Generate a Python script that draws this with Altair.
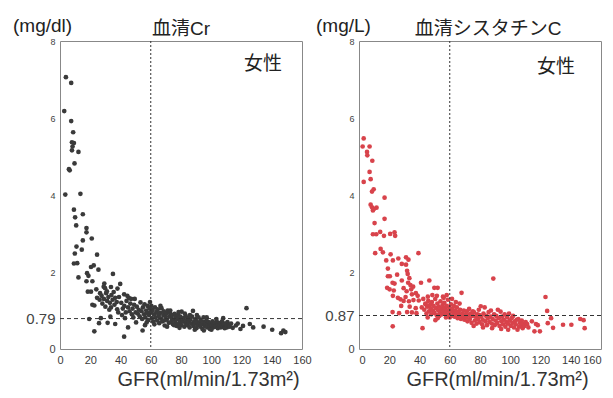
import altair as alt
import pandas as pd

FONT = "Liberation Sans, Arial, Noto Sans CJK JP, sans-serif"

gfr_ticks = [0, 20, 40, 60, 80, 100, 120, 140, 160]
cr_ticks = [0, 0.79, 2, 4, 6, 8]
cys_ticks = [0, 0.87, 2, 4, 6, 8]
cr_ref = 0.79
cys_ref = 0.87
gfr_ref = 60

# ---- serum creatinine (women): (GFR, Cr) ----
cr_high = [(3.9, 7.06), (7.4, 6.91), (2.8, 6.18), (7.4, 5.92), (8.7, 5.63), (7.9, 5.37), (9.2, 5.35),
           (8.3, 5.26), (7.9, 5.16), (12.2, 5.12), (9.6, 4.82), (5.9, 4.67), (6.4, 4.64), (3.5, 4.01),
           (13.5, 4.03), (9.2, 3.62), (15.1, 3.50), (10.0, 3.42), (10.7, 3.21), (17.5, 3.14), (17.5, 3.03),
           (15.1, 2.82), (21.0, 2.87), (10.9, 2.66), (14.4, 2.58), (9.8, 2.48), (24.5, 2.45), (9.2, 2.22),
           (11.4, 2.23), (20.5, 2.13), (22.3, 2.17), (25.4, 2.06), (17.9, 1.97), (12.2, 1.86), (18.8, 1.90),
           (35.0, 1.95), (17.5, 1.76), (21.4, 1.76), (29.3, 1.70), (28.9, 1.62), (33.7, 1.61), (38.0, 1.57),
           (39.8, 1.69), (18.4, 1.49), (20.5, 1.49), (42.4, 1.42), (45.5, 1.33), (49.4, 1.30), (24.5, 1.33),
           (26.2, 1.28), (21.4, 1.15), (22.7, 1.13)]
cr_mid = [(27.5, 1.38), (29.0, 1.30), (30.5, 1.45), (31.2, 1.25), (32.0, 1.35), (33.0, 1.20), (34.0, 1.40),
          (34.8, 1.28), (36.0, 1.15), (36.5, 1.33), (37.5, 1.22), (28.0, 1.18), (30.0, 1.10), (33.7, 1.08),
          (37.8, 1.03), (31.0, 1.50), (35.5, 1.48), (40.5, 1.20), (41.5, 1.05), (42.5, 1.12), (43.5, 0.95),
          (44.0, 1.25), (45.0, 1.08), (46.0, 0.98), (46.5, 1.18), (47.5, 0.90), (48.0, 1.05), (49.0, 1.15),
          (50.0, 0.95), (41.0, 0.88), (43.0, 0.80), (48.5, 0.82), (44.5, 1.38), (47.0, 1.30), (39.0, 1.35),
          (38.5, 0.95), (26.5, 1.45), (24.0, 1.55), (29.8, 1.58), (32.6, 1.02)]
cr_low = [(19.3, 0.78), (25.8, 0.67), (31.5, 0.68), (33.3, 0.84), (36.5, 0.65), (22.7, 0.46), (42.4, 0.32),
          (45.0, 0.56), (54.6, 0.48), (57.3, 0.69), (50.3, 0.69), (27.0, 0.80)]
cr_band = [(50.8, 1.10), (51.4, 0.92), (52.1, 1.02), (52.7, 0.85), (53.2, 1.21), (53.9, 0.98), (54.3, 0.78),
           (54.8, 1.08), (55.6, 0.90), (55.9, 1.16), (56.4, 0.82), (57.0, 1.00), (57.6, 0.94), (57.9, 1.12),
           (58.3, 0.75), (58.8, 0.88), (59.2, 1.05), (59.5, 1.22), (60.1, 0.95), (60.7, 0.80), (61.2, 1.01),
           (61.6, 0.71), (62.1, 0.90), (62.8, 1.08), (63.1, 0.82), (63.7, 0.96), (64.2, 0.74), (64.6, 1.03),
           (65.3, 0.86), (65.6, 0.67), (66.2, 0.94), (66.8, 0.79), (67.1, 1.06), (67.7, 0.72), (68.3, 0.88),
           (68.6, 0.98), (69.2, 0.61), (69.8, 0.83), (70.3, 0.92), (70.6, 0.76), (71.2, 1.00), (71.9, 0.68),
           (72.3, 0.85), (72.7, 0.94), (73.4, 0.70), (73.8, 0.80), (74.1, 0.88), (74.7, 0.64), (75.2, 0.76),
           (75.8, 0.91), (76.3, 0.70), (76.6, 0.83), (77.2, 0.60), (77.8, 0.78), (78.1, 0.89), (78.7, 0.66),
           (79.3, 0.74), (79.6, 0.84), (80.2, 0.62), (80.4, 0.97), (81.1, 0.72), (81.7, 0.80), (82.2, 0.58),
           (82.8, 0.68), (83.1, 0.86), (83.6, 0.74), (84.3, 0.62), (84.8, 0.80), (85.2, 0.70), (85.7, 0.56),
           (86.1, 0.76), (86.7, 0.66), (87.3, 0.84), (87.9, 0.99), (88.2, 0.60), (88.7, 0.72), (89.3, 0.66),
           (89.8, 0.78), (90.2, 0.54), (90.7, 0.70), (91.3, 0.62), (91.6, 0.82), (92.2, 0.68), (92.8, 0.58),
           (93.1, 0.74), (93.7, 0.64), (94.2, 0.52), (94.9, 0.82), (95.3, 0.70), (95.8, 0.60), (96.2, 0.66),
           (96.9, 0.74), (97.3, 0.56), (97.7, 0.64), (98.2, 0.70), (98.8, 0.60), (99.1, 0.52), (99.7, 0.66),
           (100.3, 0.62), (100.8, 0.72), (101.2, 0.56), (101.9, 0.64), (102.3, 0.68), (102.7, 0.58),
           (103.2, 0.62), (103.8, 0.70), (104.3, 0.54), (104.6, 0.64), (105.2, 0.60), (105.9, 0.68),
           (106.3, 0.56), (106.8, 0.62), (107.2, 0.72), (107.7, 0.58), (108.3, 0.64), (108.9, 0.54),
           (109.2, 0.66), (109.8, 0.60), (110.3, 0.56), (110.7, 0.70), (111.4, 0.62), (112.2, 0.58),
           (113.1, 0.66), (114.2, 0.55), (56.2, 0.62), (60.4, 1.12), (62.4, 0.64), (64.9, 0.92), (66.4, 1.12),
           (68.9, 0.74), (70.8, 0.58), (72.9, 1.00), (75.5, 0.62), (78.4, 0.96), (82.5, 0.92), (85.9, 0.88),
           (90.5, 0.88), (97.0, 0.82), (103.4, 0.78), (107.9, 0.80), (100.1, 0.50), (95.1, 0.48), (89.1, 0.50),
           (79.0, 0.55)]
cr_tail = [(116.3, 0.61), (119.3, 0.52), (123.3, 1.06), (125.5, 0.65), (127.7, 0.56), (134.6, 0.58),
           (140.3, 0.50), (146.2, 0.41), (147.7, 0.48), (149.0, 0.44), (117.5, 0.66), (121.0, 0.60)]

# ---- serum cystatin C (women): (GFR, CysC) ----
cys_high = [(3.1, 5.47), (2.4, 5.26), (7.0, 5.26), (5.3, 5.12), (5.5, 5.03), (8.8, 4.89), (7.0, 4.60),
            (7.7, 4.41), (3.1, 4.34), (9.7, 4.15), (8.6, 4.09), (16.9, 3.93), (7.7, 3.75), (8.6, 3.68),
            (11.6, 3.67), (9.2, 3.60), (9.9, 3.64), (16.9, 3.38), (10.3, 3.27), (9.2, 2.98), (11.4, 2.98),
            (14.0, 3.04), (16.5, 2.94), (20.6, 2.99), (23.5, 3.03), (23.9, 2.94)]
cys_upper = [(10.7, 2.49), (14.3, 2.60), (15.8, 2.51), (20.9, 2.46), (18.0, 2.30), (22.4, 2.30), (31.1, 2.38),
             (32.7, 2.32), (39.3, 2.49), (19.1, 2.09), (25.2, 1.93), (28.3, 2.21), (31.8, 2.03), (32.2, 1.95),
             (19.1, 1.89), (20.4, 1.89), (28.3, 1.78), (22.2, 1.72), (23.5, 1.70), (32.5, 1.72), (34.0, 1.66),
             (46.5, 1.78), (41.0, 1.72), (18.6, 1.59), (20.2, 1.55), (23.0, 1.52), (29.5, 1.58), (31.5, 1.50),
             (34.5, 1.55), (49.8, 1.59), (52.0, 1.59), (31.1, 2.19), (33.3, 1.84), (35.8, 1.62), (37.6, 1.45),
             (26.0, 2.35)]
cys_mid = [(25.7, 1.33), (22.4, 1.38), (27.4, 1.29), (45.5, 1.36), (48.5, 1.40), (51.5, 1.38), (56.0, 1.33),
           (29.5, 1.25), (33.0, 1.24), (36.0, 1.27), (39.5, 1.26), (27.9, 1.12), (33.5, 1.10), (37.5, 1.06),
           (41.5, 1.08), (38.8, 1.38), (42.5, 1.30), (35.0, 1.42), (44.0, 1.16), (30.8, 1.35)]
cys_low = [(22.2, 0.96), (31.8, 0.96), (35.0, 0.95), (38.0, 0.93), (45.4, 0.82), (53.1, 0.86), (22.3, 0.59),
           (42.0, 0.54), (57.5, 0.82), (60.0, 0.82), (50.5, 0.75), (26.5, 0.93)]
cys_dense = [(43.2, 1.02), (43.9, 1.18), (44.6, 0.92), (45.1, 1.10), (45.8, 1.25), (46.3, 0.98), (46.9, 1.14),
             (47.4, 1.05), (47.8, 0.90), (48.2, 1.22), (48.9, 1.00), (49.3, 1.12), (49.8, 0.94), (50.4, 1.30),
             (50.9, 1.06), (51.3, 0.88), (51.8, 1.18), (52.4, 1.00), (52.8, 1.10), (53.5, 0.94), (53.9, 1.24),
             (54.4, 1.04), (54.8, 0.90), (55.3, 1.14), (55.9, 0.98), (56.4, 1.20), (56.8, 1.06), (57.3, 0.92),
             (57.9, 1.12), (58.4, 1.00), (58.8, 1.28), (59.3, 0.90), (59.7, 1.08), (60.3, 0.98), (60.8, 1.16),
             (61.2, 0.86), (61.8, 1.04), (62.3, 0.94), (62.7, 1.12), (63.2, 0.84), (63.8, 1.00), (64.3, 0.92),
             (64.7, 1.08), (65.2, 0.80), (65.8, 0.96), (66.3, 0.88), (66.9, 1.02), (67.4, 0.78), (67.8, 1.46),
             (68.2, 0.92), (68.8, 0.84), (69.3, 1.00), (69.7, 0.76), (70.2, 0.90), (55.5, 1.36), (58.0, 1.40),
             (61.5, 1.30), (64.0, 1.22), (66.5, 1.18), (52.0, 0.80)]
cys_band = [(70.8, 0.82), (71.3, 0.98), (71.7, 0.72), (72.3, 0.88), (72.8, 1.04), (73.3, 0.78), (73.7, 0.92),
            (74.4, 0.68), (74.9, 0.86), (75.3, 0.98), (76.1, 0.95), (76.6, 0.74), (77.2, 0.84), (77.8, 0.66),
            (78.3, 0.90), (78.7, 0.78), (79.2, 1.02), (79.7, 0.70), (80.5, 1.11), (80.9, 0.84), (81.4, 0.64),
            (81.8, 0.76), (82.3, 0.92), (83.1, 1.08), (83.6, 0.72), (84.1, 0.86), (84.6, 0.62), (85.2, 0.80),
            (85.7, 0.96), (86.3, 0.70), (86.8, 0.84), (87.2, 1.00), (87.8, 0.66), (88.3, 0.78), (88.8, 1.83),
            (89.3, 0.90), (89.7, 0.62), (90.2, 0.74), (90.8, 0.86), (91.3, 0.68), (91.8, 1.02), (92.4, 0.80),
            (92.9, 0.60), (93.6, 0.97), (94.1, 0.72), (94.6, 0.84), (95.2, 0.64), (95.7, 0.76), (96.3, 0.90),
            (96.8, 0.58), (97.4, 0.70), (97.9, 0.82), (98.4, 0.66), (99.2, 0.92), (99.7, 0.74), (100.3, 0.60),
            (100.9, 0.80), (101.4, 0.68), (101.9, 0.86), (102.5, 0.56), (103.1, 0.72), (103.6, 0.64),
            (104.2, 0.76), (105.3, 0.78), (105.8, 0.58), (106.4, 0.68), (107.0, 0.62), (107.6, 0.74),
            (108.2, 0.54), (108.9, 0.66), (109.5, 0.60), (110.2, 0.70), (111.2, 0.65), (112.0, 0.56),
            (75.8, 0.60), (82.0, 0.56), (88.0, 0.54), (94.0, 0.52), (98.6, 0.50), (104.8, 0.50), (79.5, 0.88)]
cys_tail = [(116.0, 0.46), (119.6, 0.46), (123.3, 1.35), (124.4, 0.99), (127.0, 0.80), (124.8, 0.67),
            (128.3, 0.55), (117.0, 0.65), (118.2, 0.62), (134.9, 0.63), (140.4, 0.63), (146.3, 0.78),
            (148.5, 0.75), (149.2, 0.54), (114.3, 0.72)]

cr_points = cr_high + cr_mid + cr_low + cr_band + cr_tail
cys_points = cys_high + cys_upper + cys_mid + cys_low + cys_dense + cys_band + cys_tail

W, H = 242, 308


def label_text(txt, x, y, size, align="center"):
    return alt.Chart(pd.DataFrame({"t": [txt]})).mark_text(
        font=FONT, fontSize=size, color="#222", align=align, baseline="middle"
    ).encode(text="t:N", x=alt.value(x), y=alt.value(y))


def panel(points, color, ref, yticks, unit, title, unit_x, title_x, sex_x, sex_y, xt_x, flush):
    df = pd.DataFrame(points, columns=["gfr", "val"])
    xsc = alt.Scale(domain=[0, 160], nice=False, zero=True)
    ysc = alt.Scale(domain=[0, 8], nice=False)
    x_axis = alt.Axis(
        values=gfr_ticks, title="GFR(ml/min/1.73m²)", titleFont=FONT, titleFontSize=20,
        titleFontWeight="normal", titleColor="#333", titleX=xt_x, titleY=30,
        titleBaseline="middle", titleAlign="center", labelFont=FONT, labelFontSize=11,
        labelColor="#3a3a3a", labelPadding=5, ticks=False, domain=False, grid=False,
        labelFlush=flush)
    y_axis = alt.Axis(
        values=yticks, title=None, labelExpr="'' + datum.value", labelFont=FONT,
        labelFontSize={"condition": [{"test": "datum.value > 0.5 && datum.value < 1", "value": 15},
                                     {"test": "datum.value == 0", "value": 11}],
                       "value": 9},
        labelColor="#444", labelPadding=5, ticks=False, domain=False, grid=False,
        labelOverlap=False, labelFlush=False)
    pts = alt.Chart(df).mark_circle(size=22, color=color, opacity=1).encode(
        x=alt.X("gfr:Q", scale=xsc, axis=x_axis),
        y=alt.Y("val:Q", scale=ysc, axis=y_axis),
    )
    vline = alt.Chart(pd.DataFrame({"gfr": [gfr_ref]})).mark_rule(
        color="#333", strokeDash=[2, 2], strokeWidth=1
    ).encode(x=alt.X("gfr:Q", scale=xsc, axis=x_axis))
    hline = alt.Chart(pd.DataFrame({"val": [ref]})).mark_rule(
        color="#333", strokeDash=[4, 3], strokeWidth=1
    ).encode(y=alt.Y("val:Q", scale=ysc, axis=y_axis))
    t_unit = label_text(unit, unit_x, -15, 19, align="left")
    t_title = label_text(title, title_x, -12, 19)
    t_sex = label_text("女性", sex_x, sex_y, 19)
    return alt.layer(pts, vline, hline, t_unit, t_title, t_sex).properties(width=W, height=H)


left = panel(cr_points, "#3a3a3a", cr_ref, cr_ticks, "(mg/dl)", "血清Cr", -47, 121, 203, 23, 148, False)
right = panel(cys_points, "#d8434b", cys_ref, cys_ticks, "(mg/L)", "血清シスタチンC", -43, 129, 197, 26, 138, True)

chart = alt.hconcat(left, right, spacing=3).properties(
    padding={"left": 4, "top": 8, "right": 0, "bottom": 0}
).configure_view(stroke="#888", strokeWidth=1)

chart.save("out.html", embed_options={"renderer": "svg", "actions": False})
